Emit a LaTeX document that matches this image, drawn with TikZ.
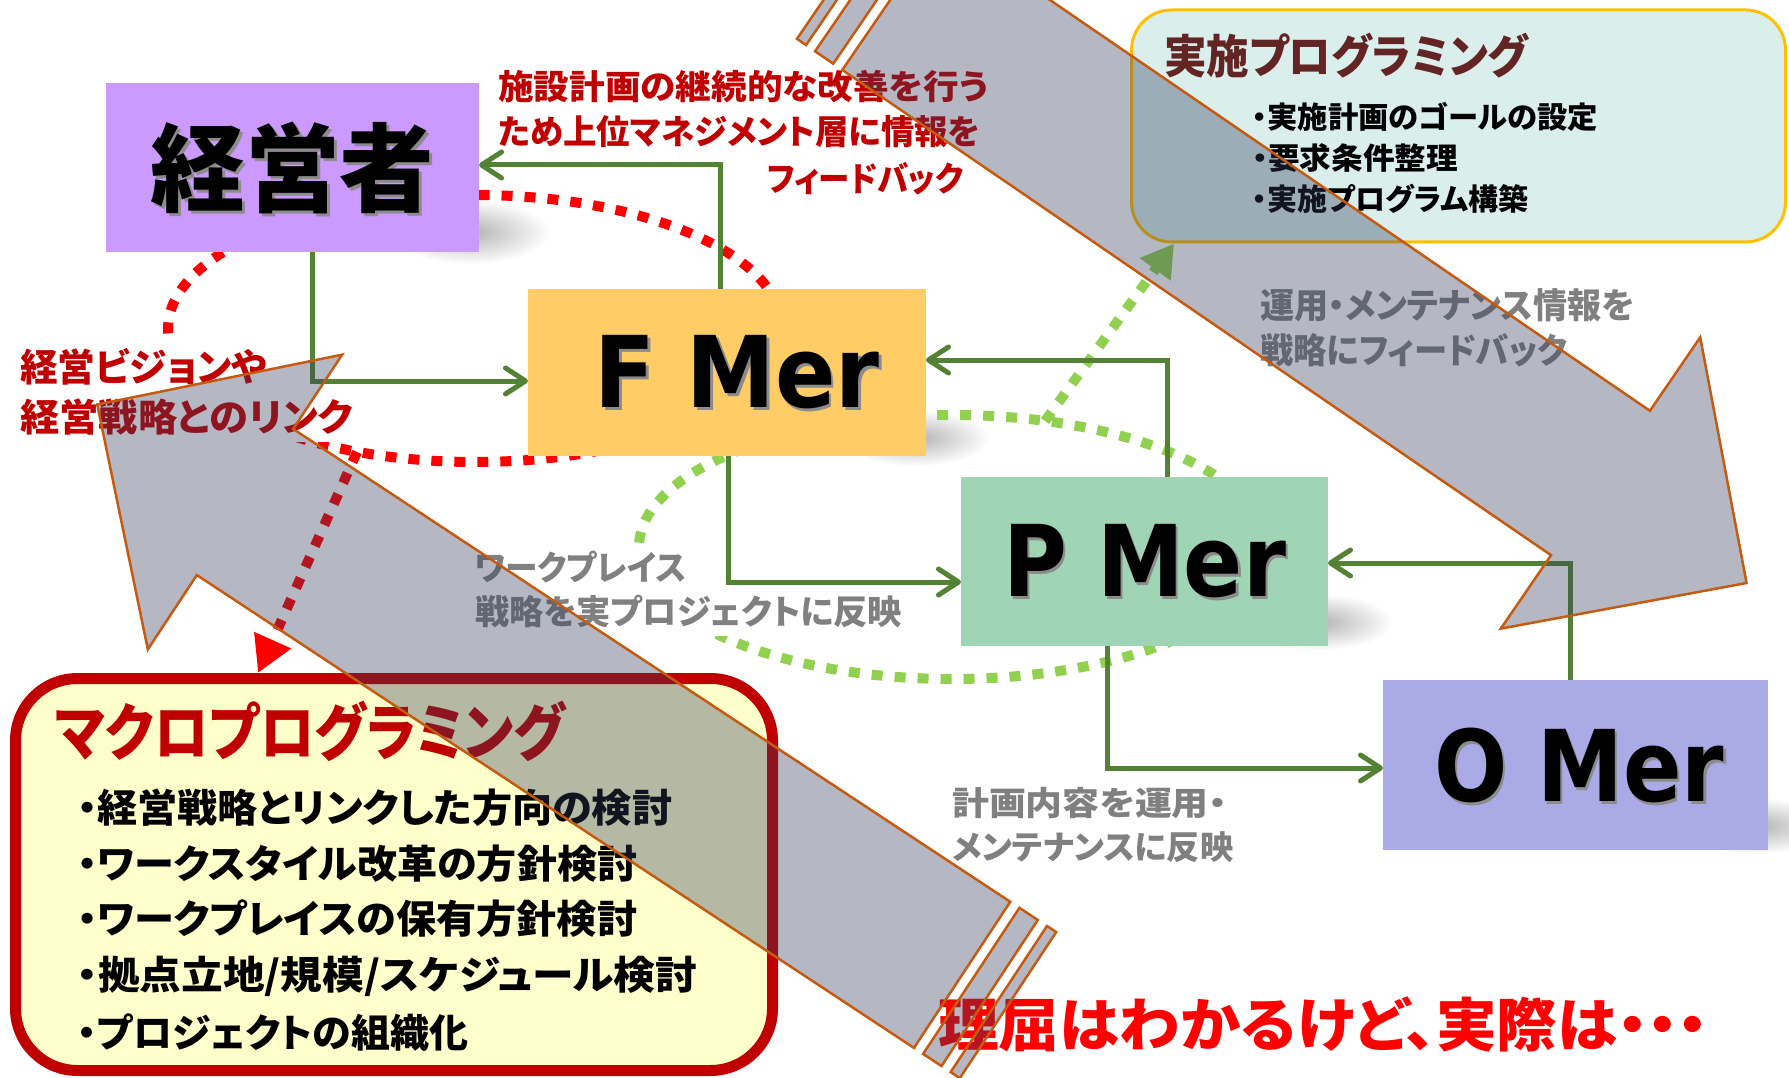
\documentclass[tikz,border=0pt]{standalone}
\usepackage{fontspec}
\usepackage{graphicx}
\usetikzlibrary{arrows.meta,fadings}
\newfontfamily\jp{Noto Sans CJK JP}[RawFeature=+palt]
\newfontfamily\lat{DejaVu Sans}
\newcommand\js[1]{\jp\bfseries\fontsize{#1}{#1}\selectfont}
\newcommand\jl[2]{\jp\bfseries\fontsize{#1}{#2}\selectfont}
\newcommand\ls[1]{\lat\bfseries\fontsize{#1}{#1}\selectfont}
\newcommand\fw[2]{\resizebox{#1}{\height}{#2}}
\newcommand\shtext[1]{\makebox[0pt][l]{\raisebox{-3pt}[0pt][0pt]{\hspace*{3pt}\textcolor{black!45}{#1}}}#1}
\tikzfading[name=softblob, inner color=transparent!25, outer color=transparent!100]
\definecolor{cKeiei}{RGB}{204,153,255}
\definecolor{cF}{RGB}{255,204,102}
\definecolor{cP}{RGB}{159,213,181}
\definecolor{cO}{RGB}{170,170,230}
\definecolor{cTeal}{RGB}{218,238,236}
\definecolor{cGold}{RGB}{255,192,0}
\definecolor{cYel}{RGB}{255,255,204}
\definecolor{cDred}{RGB}{192,0,0}
\definecolor{cBrn}{RGB}{99,37,35}
\definecolor{cGtxt}{RGB}{128,128,128}
\definecolor{cConn}{RGB}{84,130,53}
\definecolor{cGdot}{RGB}{146,208,80}
\definecolor{cRed}{RGB}{255,0,0}
\definecolor{cAfill}{RGB}{50,60,90}
\definecolor{cAline}{RGB}{197,90,17}
\begin{document}
\begin{tikzpicture}[x=1pt,y=-1pt,
  box/.style={inner sep=0pt, outer sep=0pt},
  txt/.style={inner sep=0pt, anchor=north west},
  conn/.style={draw=cConn, line width=5pt, -{Straight Barb[length=20pt,width=26pt,round]}},
  reddots/.style={draw=cRed, line width=10pt, dash pattern=on 11pt off 12pt},
  grndots/.style={draw=cGdot, line width=10pt, dash pattern=on 11pt off 12pt},
  garrow/.style={fill=cAfill, fill opacity=.36, draw=cAline, line width=2.5pt, line join=miter},
  shad/.style={fill=black, opacity=.4, path fading=softblob}]
\useasboundingbox (0,0) rectangle (1789,1078);
\clip (0,0) rectangle (1789,1078);
\fill[white] (0,0) rectangle (1789,1078);

% soft shadows of the boxes
\fill[shad] (470,232) ellipse [x radius=80pt, y radius=32pt];
\fill[shad] (915,438) ellipse [x radius=75pt, y radius=28pt];
\fill[shad] (1318,622) ellipse [x radius=75pt, y radius=28pt];
\fill[shad] (1757,826) ellipse [x radius=75pt, y radius=28pt];

% dotted loops
\draw[reddots] (475,328.5) ellipse [x radius=307pt, y radius=133.5pt];
\draw[grndots] (952,547) ellipse [x radius=313pt, y radius=132pt];

% labels with white ground
\node[txt, fill=white, inner sep=7pt, align=left, font=\jl{38}{50}, text=cDred] (tlink) at (13,341)
  {\fw{247pt}{経営ビジョンや}\\\fw{333pt}{経営戦略とのリンク}};
\node[txt, fill=white, inner sep=8pt, align=left, font=\jl{34}{44}, text=cGtxt] (twp) at (467,543)
  {\fw{211pt}{ワークプレイス}\\\fw{427pt}{戦略を実プロジェクトに反映}};

% boxes
\node[box, fill=cKeiei, minimum width=373pt, minimum height=169pt, font=\js{96}] (keiei) at (292.5,167.5) {\fw{284pt}{\shtext{経営者}}};
\node[box, fill=cF, minimum width=398pt, minimum height=167pt, font=\ls{99}] (fmer) at (727,372.5) {\hspace*{20pt}\fw{285pt}{\shtext{F Mer}}};
\node[box, fill=cP, minimum width=367pt, minimum height=169pt, font=\ls{99}] (pmer) at (1144.5,561.5) {\fw{283pt}{\shtext{P Mer}}};
\node[box, fill=cO, minimum width=385pt, minimum height=170pt, font=\ls{99}] (omer) at (1575.5,765) {\hspace*{7pt}\fw{290pt}{\shtext{O Mer}}};
\node[inner sep=0pt, draw=cGold, line width=3pt, fill=cTeal, rounded corners=40pt, minimum width=654pt, minimum height=232pt] (jisshi) at (1458.5,126) {};
\node[inner sep=0pt, draw=cDred, line width=11pt, fill=cYel, rounded corners=62pt, minimum width=757pt, minimum height=392pt] (macro) at (394,874.5) {};

% dotted arrows
\coordinate (rs) at (357,452);
\draw[reddots, -{Triangle[length=36pt,width=38pt]}] (rs) -- (macro.north -| 258,0);
\coordinate (gs) at (1045,421);
\draw[grndots, -{Triangle[length=32pt,width=36pt]}] (gs) -- (jisshi.south -| 1174,0);

% connectors
\draw[conn] (keiei.south -| 312,0) |- (fmer.west |- 0,381);
\draw[conn] (fmer.north -| 720,0) |- (keiei.east |- 0,165);
\draw[conn] (fmer.south -| 728,0) |- (pmer.west |- 0,582);
\draw[conn] (pmer.north -| 1167,0) |- (fmer.east |- 0,360);
\draw[conn] (pmer.south -| 1107,0) |- (omer.west |- 0,768);
\draw[conn] (omer.north -| 1570,0) |- (pmer.east |- 0,563);

% texts
\node[txt, font=\js{34}, text=cDred] (tfb1) at (498,70) {\fw{490pt}{施設計画の継続的な改善を行う}};
\node[txt, font=\js{34}, text=cDred] (tfb2) at (498,115) {\fw{482pt}{ため上位マネジメント層に情報を}};
\node[txt, font=\js{34}, text=cDred] (tfb3) at (767,162) {\fw{196pt}{フィードバック}};

\node[txt, font=\js{46}, text=cBrn] (tjt) at (1164,33) {\fw{364pt}{実施プログラミング}};
\node[txt, font=\js{30}] (tj1) at (1252,102) {\fw{346pt}{・実施計画のゴールの設定}};
\node[txt, font=\js{30}] (tj2) at (1252,143) {\fw{206pt}{・要求条件整理}};
\node[txt, font=\js{30}] (tj3) at (1252,184) {\fw{276pt}{・実施プログラム構築}};

\node[txt, font=\js{35}, text=cGtxt] (tun1) at (1260,288) {\fw{374pt}{運用・メンテナンス情報を}};
\node[txt, font=\js{35}, text=cGtxt] (tun2) at (1260,333) {\fw{307pt}{戦略にフィードバック}};

\node[txt, font=\js{33}, text=cGtxt] (tkk1) at (952,787) {\fw{275pt}{計画内容を運用・}};
\node[txt, font=\js{33}, text=cGtxt] (tkk2) at (952,831) {\fw{281pt}{メンテナンスに反映}};

\node[txt, font=\js{58}, text=cRed] (triku) at (938,997) {\fw{770pt}{理屈はわかるけど、実際は・・・}};

\node[txt, font=\js{62}, text=cDred] (tmt) at (55,701) {\fw{510pt}{マクロプログラミング}};
\node[txt, font=\js{39}] (tm1) at (77,789) {\fw{595pt}{・経営戦略とリンクした方向の検討}};
\node[txt, font=\js{39}] (tm2) at (77,845) {\fw{560pt}{・ワークスタイル改革の方針検討}};
\node[txt, font=\js{39}] (tm3) at (77,900) {\fw{560pt}{・ワークプレイスの保有方針検討}};
\node[txt, font=\js{39}] (tm4) at (77,956) {\fw{620pt}{・拠点立地/規模/スケジュール検討}};
\node[txt, font=\js{39}] (tm5) at (77,1014) {\fw{391pt}{・プロジェクトの組織化}};

% big translucent striped arrows
\begin{scope}[shift={(1600.5,483)}, rotate=-34.4]
  \path[garrow] (-859,-87.5) -- (0,-87.5) -- (0,-176.5) -- (177,0) -- (0,176.5) -- (0,87.5) -- (-859,87.5) -- cycle;
  \path[garrow] (-892,-87.5) rectangle (-870,87.5);
  \path[garrow] (-914,-87.5) rectangle (-903,87.5);
\end{scope}
\begin{scope}[shift={(245,502)}, rotate=146.6]
  \path[garrow] (-859,-87.5) -- (0,-87.5) -- (0,-176.5) -- (177,0) -- (0,176.5) -- (0,87.5) -- (-859,87.5) -- cycle;
  \path[garrow] (-892,-87.5) rectangle (-870,87.5);
  \path[garrow] (-914,-87.5) rectangle (-903,87.5);
\end{scope}
\end{tikzpicture}
\end{document}
